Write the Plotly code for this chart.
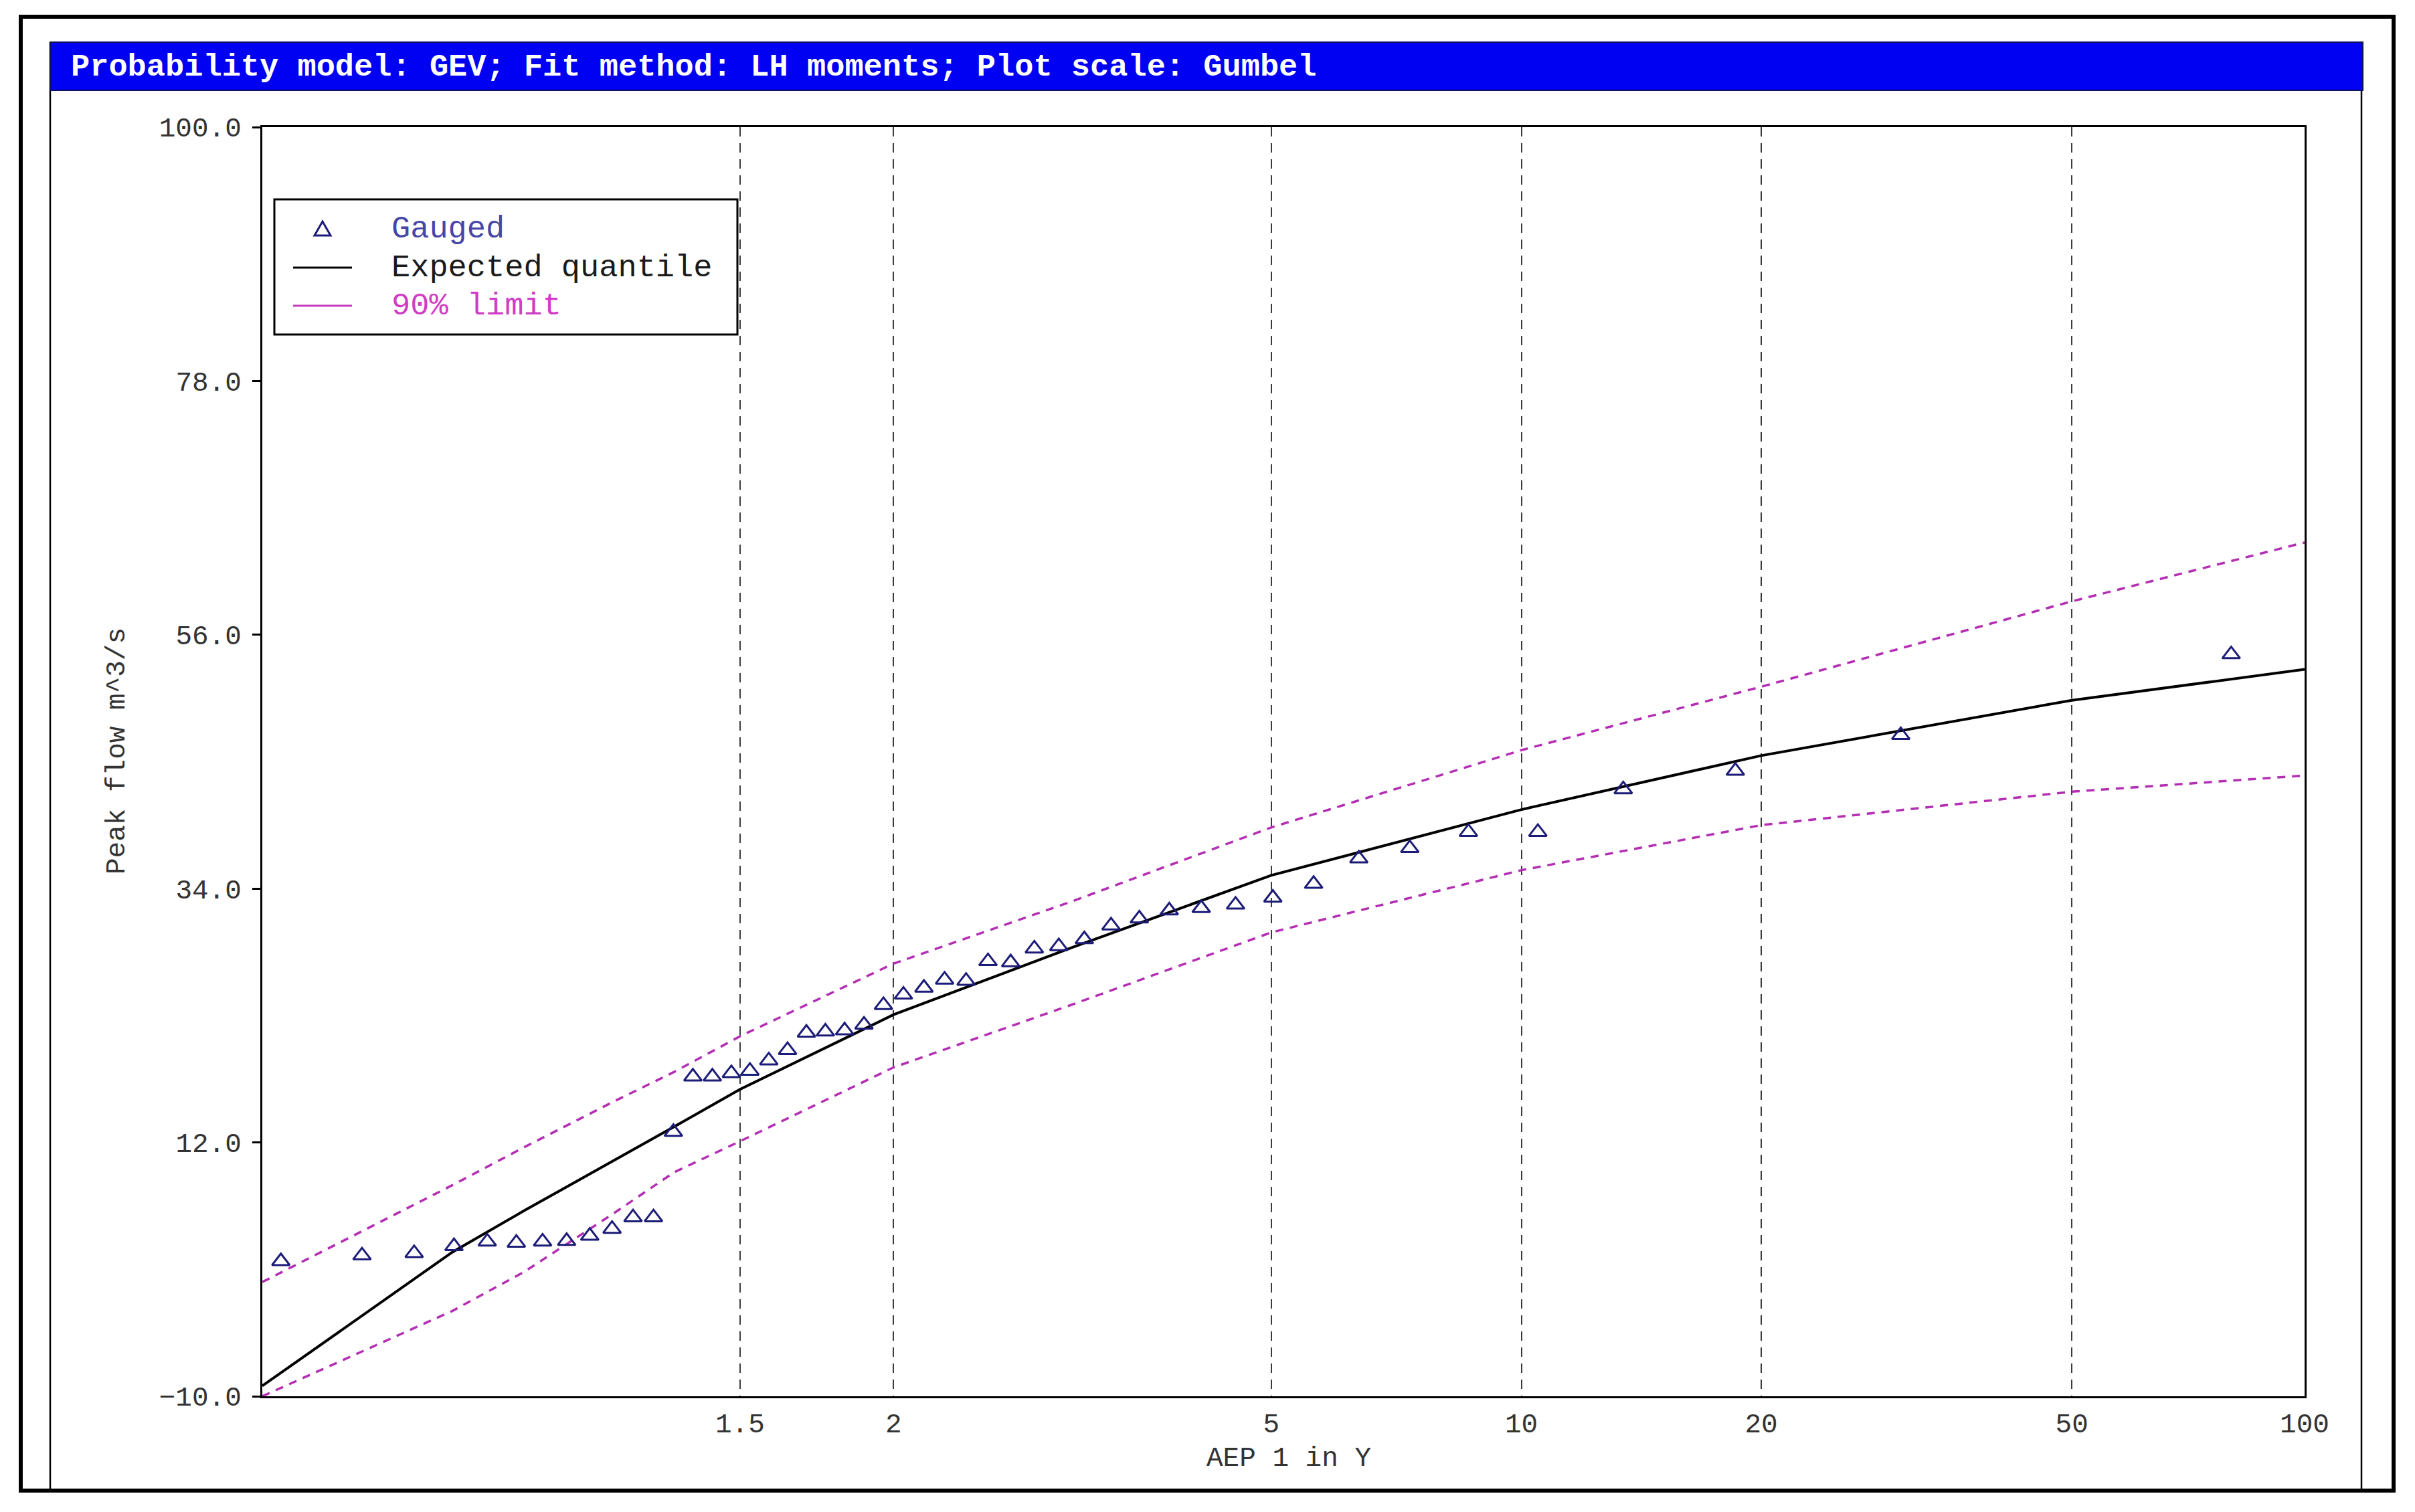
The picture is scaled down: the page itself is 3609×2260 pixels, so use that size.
import numpy as np
import plotly.graph_objects as go

# ---------------- data ----------------
# Gauged annual maxima: AEP "1 in Y" plotting positions and peak flows (m^3/s)
gauged_aep = [1.013, 1.034, 1.057, 1.081, 1.106, 1.132, 1.159, 1.187, 1.217, 1.249,
              1.282, 1.317, 1.354, 1.393, 1.435, 1.479, 1.525, 1.575, 1.628, 1.685,
              1.746, 1.812, 1.883, 1.959, 2.042, 2.133, 2.231, 2.340, 2.459, 2.591,
              2.739, 2.904, 3.090, 3.301, 3.544, 3.825, 4.155, 4.547, 5.021, 5.605,
              6.342, 7.303, 8.607, 10.48, 13.39, 18.54, 30.13, 80.33]
gauged_flow = [1.7, 2.2, 2.4, 3.0, 3.4, 3.3, 3.4, 3.45, 3.9, 4.5,
               5.5, 5.5, 12.9, 17.7, 17.7, 18.0, 18.2, 19.1, 20.0, 21.5,
               21.6, 21.7, 22.2, 23.9, 24.8, 25.4, 26.1, 26.0, 27.7, 27.6,
               28.8, 29.0, 29.6, 30.8, 31.4, 32.1, 32.3, 32.6, 33.2, 34.4,
               36.6, 37.5, 38.9, 38.9, 42.6, 44.2, 47.3, 54.3]

# Quantile curves
quant_aep = [1.0101, 1.08, 1.14, 1.25, 1.355, 1.5, 2, 3, 5, 10, 20, 50, 100]
expected_q = [-9.1, 2.5, 6.1, 10.35, 13.35, 16.6, 23.07, 28.9, 35.15, 40.85, 45.53, 50.32, 53.0]
upper_90 = [-0.1, 8.3, 11.6, 15.5, 18.1, 21.2, 27.5, 32.9, 39.3, 46.0, 51.5, 58.9, 64.0]
lower_90 = [-10.0, -2.6, 0.8, 5.8, 9.4, 12.1, 18.5, 23.95, 30.2, 35.6, 39.5, 42.4, 43.8]

# Axes
x_tick_aep = [1.5, 2, 5, 10, 20, 50, 100]
x_tick_labels = ["1.5", "2", "5", "10", "20", "50", "100"]
x_limits_aep = [1.0101, 100]
y_ticks = [-10, 12, 34, 56, 78, 100]
y_limits = [-10, 100]

title_text = "Probability model: GEV; Fit method: LH moments; Plot scale: Gumbel"
x_title = "AEP 1 in Y"
y_title = "Peak flow m^3/s"
legend_labels = ["Gauged", "Expected quantile", "90% limit"]

# ---------------- styling / layout ----------------
W, H = 3609, 2260
L, R, T, B = 392, 3444, 190, 2087   # plot-area box in pixels

FONT = "Liberation Mono, Courier New, monospace"
NAVY = "#1C1C78"
MAGENTA = "#B42EB4"


def gumbel(aep):
    aep = np.asarray(aep, dtype=float)
    return -np.log(-np.log(1.0 - 1.0 / aep))


def px(x):
    return (x - L) / (R - L)


def py(y):
    return (B - y) / (B - T)


fig = go.Figure()

fig.add_trace(go.Scatter(x=gumbel(quant_aep), y=upper_90, mode="lines",
                         line=dict(color=MAGENTA, width=3.5, dash="12px,10px"),
                         name="90% limit"))
fig.add_trace(go.Scatter(x=gumbel(quant_aep), y=lower_90, mode="lines",
                         line=dict(color=MAGENTA, width=3.5, dash="12px,10px"),
                         name="90% limit (lower)"))
fig.add_trace(go.Scatter(x=gumbel(quant_aep), y=expected_q, mode="lines",
                         line=dict(color="black", width=4),
                         name="Expected quantile"))
fig.add_trace(go.Scatter(x=gumbel(gauged_aep), y=gauged_flow, mode="markers",
                         marker=dict(symbol="triangle-up-open", size=23,
                                     color=NAVY, line=dict(color=NAVY, width=3)),
                         name="Gauged"))

shapes = []
# outer thick frame
shapes.append(dict(type="rect", xref="paper", yref="paper",
                   x0=px(31), x1=px(3577), y0=py(2228), y1=py(25),
                   line=dict(color="black", width=6), fillcolor="rgba(0,0,0,0)"))
# inner panel side lines
for xx in (75, 3529):
    shapes.append(dict(type="line", xref="paper", yref="paper",
                       x0=px(xx), x1=px(xx), y0=py(2226), y1=py(63),
                       line=dict(color="black", width=2.5)))
# title bar
shapes.append(dict(type="rect", xref="paper", yref="paper",
                   x0=px(75), x1=px(3531), y0=py(135), y1=py(63),
                   line=dict(color="#101060", width=2), fillcolor="#0000F2"))
# legend box
shapes.append(dict(type="rect", xref="paper", yref="paper", layer="above",
                   x0=px(410), x1=px(1102), y0=py(500), y1=py(298),
                   line=dict(color="black", width=3), fillcolor="white"))
# legend symbols
shapes.append(dict(type="path", xref="paper", yref="paper", layer="above",
                   path=f"M {px(470)} {py(352)} L {px(494)} {py(352)} L {px(482)} {py(331)} Z",
                   line=dict(color=NAVY, width=3), fillcolor="rgba(0,0,0,0)"))
shapes.append(dict(type="line", xref="paper", yref="paper", layer="above",
                   x0=px(438), x1=px(526), y0=py(400), y1=py(400),
                   line=dict(color="black", width=3)))
shapes.append(dict(type="line", xref="paper", yref="paper", layer="above",
                   x0=px(438), x1=px(526), y0=py(457), y1=py(457),
                   line=dict(color="#C83CBE", width=3)))

annotations = [
    dict(text=title_text, xref="paper", yref="paper", x=px(104), y=py(100),
         xanchor="left", yanchor="middle", showarrow=False,
         font=dict(family=FONT, size=47, color="white", weight="bold")),
    dict(text=x_title, xref="paper", yref="paper", x=px(1926), y=py(2180),
         xanchor="center", yanchor="middle", showarrow=False,
         font=dict(family=FONT, size=41, color="#333333")),
    dict(text=y_title, xref="paper", yref="paper", x=px(175), y=py(1123),
         xanchor="center", yanchor="middle", showarrow=False, textangle=-90,
         font=dict(family=FONT, size=41, color="#333333")),
]
legend_colors = ["#4646A6", "#1a1a1a", "#D03CC4"]
legend_rows = [342, 400, 457]
for lab, col, yy in zip(legend_labels, legend_colors, legend_rows):
    annotations.append(dict(text=lab, xref="paper", yref="paper", x=px(583), y=py(yy),
                            xanchor="left", yanchor="middle", showarrow=False,
                            font=dict(family=FONT, size=47, color=col)))

fig.update_layout(
    width=W, height=H,
    margin=dict(l=L, r=W - R, t=T, b=H - B, pad=0, autoexpand=False),
    paper_bgcolor="white", plot_bgcolor="white",
    showlegend=False,
    font=dict(family=FONT, color="#333333"),
    shapes=shapes, annotations=annotations,
    xaxis=dict(range=list(gumbel(x_limits_aep)),
               tickmode="array", tickvals=list(gumbel(x_tick_aep)), ticktext=x_tick_labels,
               ticks="", showgrid=True, gridcolor="#3c3c3c", gridwidth=2,
               griddash="14px,10px", zeroline=False,
               showline=True, linecolor="black", linewidth=3, mirror=True,
               tickfont=dict(family=FONT, size=41, color="#333333"),
               ticklabelstandoff=2),
    yaxis=dict(range=y_limits, tickmode="array", tickvals=y_ticks, tickformat=".1f",
               ticks="outside", ticklen=12, tickwidth=3, tickcolor="black",
               showgrid=False, zeroline=False,
               showline=True, linecolor="black", linewidth=3, mirror=True,
               tickfont=dict(family=FONT, size=41, color="#333333"),
               ticklabelstandoff=8),
)

fig.write_html("out.html", config={"displayModeBar": False},
               post_script="document.body.style.margin='0px';")
